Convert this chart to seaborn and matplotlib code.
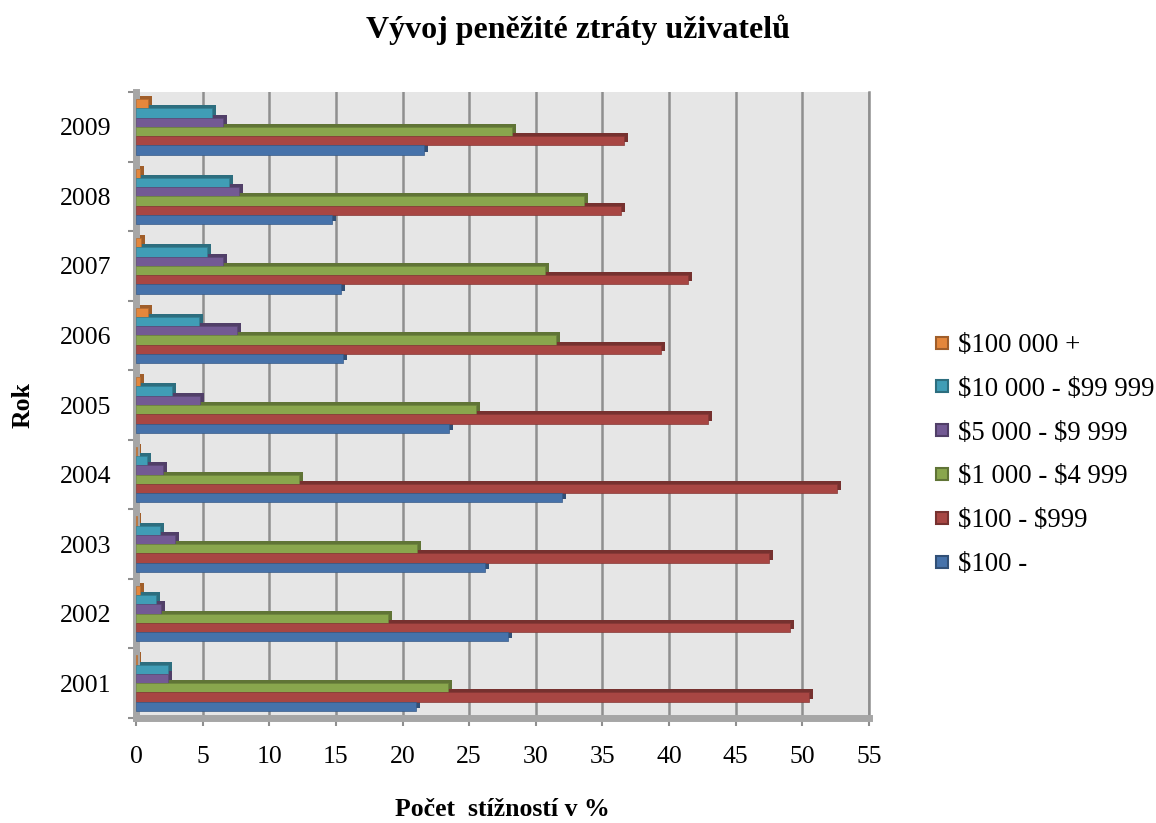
import numpy as np
import pandas as pd
import matplotlib
matplotlib.use("Agg")
import matplotlib.pyplot as plt
import matplotlib.colors as mcolors
from matplotlib.patches import Rectangle
from matplotlib.lines import Line2D
from matplotlib.transforms import ScaledTranslation
import seaborn as sns

# ---- data: share of complaints (%) by loss bracket and year ----
years = ["2001", "2002", "2003", "2004", "2005", "2006", "2007", "2008", "2009"]
series = ["$100 000 +", "$10 000 - $99 999", "$5 000 - $9 999",
          "$1 000 - $4 999", "$100 - $999", "$100 -"]
loss_100k_plus = [0.1, 0.3, 0.1, 0.1, 0.3, 0.9, 0.4, 0.3, 0.9]
loss_10k_99k = [2.4, 1.5, 1.8, 0.85, 2.7, 4.7, 5.3, 7.0, 5.7]
loss_5k_9k = [2.4, 1.9, 2.9, 2.0, 4.8, 7.6, 6.5, 7.7, 6.5]
loss_1k_4k = [23.4, 18.9, 21.1, 12.2, 25.5, 31.5, 30.7, 33.6, 28.2]
loss_100_999 = [50.5, 49.1, 47.5, 52.6, 42.9, 39.4, 41.4, 36.4, 36.6]
loss_under_100 = [21.0, 27.9, 26.2, 32.0, 23.5, 15.5, 15.4, 14.7, 21.6]
x_ticks = [0, 5, 10, 15, 20, 25, 30, 35, 40, 45, 50, 55]

colors = ["#E4873C", "#409DB6", "#735A94", "#89A64D", "#A84643", "#4672AA"]

values = [loss_100k_plus, loss_10k_99k, loss_5k_9k, loss_1k_4k,
          loss_100_999, loss_under_100]
df = pd.DataFrame({
    "Rok": np.repeat([years], len(series), axis=0).ravel(),
    "Skupina": np.repeat(series, len(years)),
    "Podíl": np.concatenate(values),
})

plt.rcParams["font.family"] = ["Liberation Serif", "DejaVu Serif"]
plt.rcParams["text.parse_math"] = False  # labels contain literal dollar signs

W, H = 1156, 823
fig = plt.figure(figsize=(W / 100, H / 100), dpi=100)
ax_left, ax_right, ax_top, ax_bottom = 136, 869, 92, 718
ax = fig.add_axes([ax_left / W, 1 - ax_bottom / H,
                   (ax_right - ax_left) / W, (ax_bottom - ax_top) / H])
ax.set_facecolor("#E6E6E6")

year_order = years[::-1]
sns.barplot(data=df, x="Podíl", y="Rok", hue="Skupina", order=year_order,
            hue_order=series, palette=colors, orient="h", width=0.8,
            saturation=1, legend=False, ax=ax, zorder=3)

# darker top/side faces give the bars a shallow 3D look
shift = ScaledTranslation(4 / 100, 3 / 100, fig.dpi_scale_trans)
for p in list(ax.patches):
    fc = np.array(mcolors.to_rgb(p.get_facecolor()))
    dark = tuple(fc * 0.7)
    p.set_edgecolor(tuple(fc * 0.8))
    p.set_linewidth(0.5)
    if p.get_width() <= 0:
        continue
    ax.add_patch(Rectangle(p.get_xy(), p.get_width(), p.get_height(),
                           facecolor=dark, edgecolor="none",
                           transform=ax.transData + shift, zorder=2))

ax.set_xlim(0, 55)
ax.set_ylim(len(years) - 0.5, -0.5)
ax.set_xticks(x_ticks)
ax.set_xticklabels([str(t) for t in x_ticks])
ax.set_axisbelow(True)
ax.grid(axis="x", color="#8F8F8F", linewidth=1.8, zorder=0)
ax.grid(axis="y", visible=False)

# category boundary ticks on the y axis
ax.set_yticks(np.arange(-0.5, len(years), 1.0), minor=True)
ax.tick_params(axis="y", which="major", length=0, pad=18, labelsize=18.5)
ax.tick_params(axis="y", which="minor", length=6, width=1.5, color="#8F8F8F")
ax.tick_params(axis="x", which="major", length=6, width=1.5, color="#8F8F8F",
               pad=14, labelsize=18.5)

for side in ["left", "bottom"]:
    ax.spines[side].set_color("#A6A6A6")
    ax.spines[side].set_linewidth(5)
ax.spines["right"].set_color("#8F8F8F")
ax.spines["right"].set_linewidth(1.8)
ax.spines["top"].set_visible(False)

ax.set_xlabel("Počet  stížností v %", fontsize=18.5, fontweight="bold",
              labelpad=22)
ax.set_ylabel("Rok", fontsize=18.5, fontweight="bold", labelpad=18)

fig.text(0.5, 1 - 30 / H, "Vývoj peněžité ztráty uživatelů", ha="center",
         va="center", fontsize=23, fontweight="bold")

handles = [Line2D([], [], linestyle="none", marker="s", markersize=8.5,
                  markerfacecolor=c,
                  markeredgecolor=tuple(np.array(mcolors.to_rgb(c)) * 0.7),
                  markeredgewidth=1.5) for c in colors]
fig.legend(handles, series, loc="center left",
           bbox_to_anchor=(934 / W, 1 - 455 / H), frameon=False,
           fontsize=19.3, labelspacing=0.7, handlelength=0.6,
           handletextpad=0.3, borderpad=0, borderaxespad=0)

fig.savefig("out.png", dpi=100)
